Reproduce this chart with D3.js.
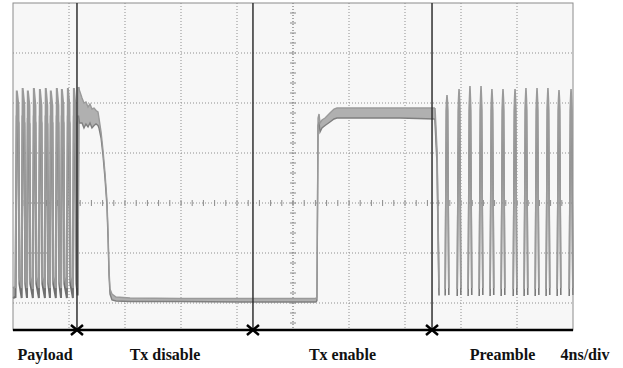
<!DOCTYPE html>
<html>
<head>
<meta charset="utf-8">
<script src="https://cdn.jsdelivr.net/npm/d3@7"></script>
<style>
	body { margin: 0; background: #fff; }
</style>
</head>
<body>
<div id="scope"></div>
<script>
// [time ns, low volts(div), high volts(div)], null = no samples
var payload = [
	[0.00, -1.90, -1.70], [0.18, -1.88, -1.68],
	[0.27, 1.75, 2.25], [0.39, 1.60, 1.95], [0.46, -1.62, -1.48], [0.62, -1.90, -1.70],
	[0.69, 1.75, 2.30], [0.81, 1.60, 1.95], [0.88, -1.62, -1.48], [1.00, -1.90, -1.70],
	[1.06, 1.70, 2.25], [1.17, 1.58, 1.95], [1.24, -1.62, -1.48], [1.42, -1.90, -1.72],
	[1.49, 1.75, 2.30], [1.60, 1.60, 1.95], [1.67, -1.62, -1.48], [1.85, -1.90, -1.70],
	[1.92, 1.75, 2.28], [2.03, 1.60, 1.95], [2.10, -1.62, -1.48], [2.28, -1.90, -1.70],
	[2.34, 1.75, 2.30], [2.45, 1.58, 1.95], [2.52, -1.62, -1.48], [2.64, -1.90, -1.70],
	[2.70, 1.75, 2.25], [2.81, 1.60, 1.95], [2.88, -1.62, -1.48], [3.06, -1.90, -1.70],
	[3.13, 1.75, 2.30], [3.24, 1.60, 1.95], [3.31, -1.62, -1.48], [3.43, -1.90, -1.70],
	[3.49, 1.75, 2.28], [3.60, 1.60, 1.95], [3.67, -1.62, -1.48], [3.85, -1.90, -1.70],
	[3.92, 1.75, 2.30], [4.03, 1.60, 1.95], [4.10, -1.62, -1.48], [4.28, -1.90, -1.70],
	[4.35, 1.75, 2.30], [4.46, 1.60, 1.95], [4.53, -1.62, -1.48], [4.62, -1.85, -1.70],
	[4.68, 1.75, 2.32]
];
var txDisable = [
	[4.68, 1.75, 2.32], [4.75, 1.60, 2.25], [4.93, 1.60, 2.10], [5.07, 1.50, 2.00],
	[5.21, 1.58, 2.02], [5.36, 1.52, 1.92], [5.50, 1.60, 1.98], [5.64, 1.50, 1.88],
	[5.79, 1.55, 1.90], [5.93, 1.58, 1.85], [6.07, 1.55, 1.82], [6.14, 1.50, 1.70],
	[6.29, 1.30, 1.42], [6.43, 0.95, 1.05], [6.57, 0.50, 0.60], [6.71, -0.05, 0.05],
	[6.79, -0.70, -0.60], [6.86, -1.45, -1.35], [6.93, -1.82, -1.72], [7.07, -1.94, -1.82],
	[7.36, -1.96, -1.88], [8.36, -1.97, -1.90], [11.93, -1.97, -1.91], [16.21, -1.98, -1.91],
	[21.64, -1.98, -1.91]
];
var txEnable = [
	[21.64, -1.98, -1.91], [21.71, -1.95, -1.88], [21.79, 1.55, 1.70], [21.86, 1.62, 1.78],
	[21.93, 1.42, 1.60], [22.07, 1.50, 1.66], [22.29, 1.55, 1.70], [22.64, 1.62, 1.80],
	[22.93, 1.68, 1.88], [23.14, 1.70, 1.90], [24.79, 1.70, 1.90], [27.64, 1.70, 1.90],
	[30.14, 1.68, 1.90]
];
var preamble = [
	[30.14, 1.68, 1.90], [30.29, 0.80, 1.00], [30.43, -1.85, -1.70], null,
	[30.87, -1.85, -1.72], [30.96, 1.85, 2.00], [31.00, 2.05, 2.16], [31.04, 1.85, 2.00], [31.13, -1.84, -1.70], null,
	[31.73, -1.86, -1.72], [31.82, 1.85, 2.05], [31.86, 2.12, 2.28], [31.90, 1.85, 2.05], [31.99, -1.84, -1.70], null,
	[32.51, -1.86, -1.72], [32.60, 1.85, 2.05], [32.64, 2.15, 2.34], [32.68, 1.85, 2.05], [32.77, -1.84, -1.70], null,
	[33.30, -1.86, -1.72], [33.39, 1.85, 2.05], [33.43, 2.15, 2.34], [33.47, 1.85, 2.05], [33.56, -1.84, -1.70], null,
	[34.08, -1.86, -1.72], [34.17, 1.85, 2.05], [34.21, 2.12, 2.28], [34.25, 1.85, 2.05], [34.34, -1.84, -1.70], null,
	[34.87, -1.86, -1.72], [34.96, 1.85, 2.05], [35.00, 2.12, 2.28], [35.04, 1.85, 2.05], [35.13, -1.84, -1.70], null,
	[35.73, -1.86, -1.72], [35.82, 1.85, 2.05], [35.86, 2.12, 2.28], [35.90, 1.85, 2.05], [35.99, -1.84, -1.70], null,
	[36.51, -1.86, -1.72], [36.60, 1.85, 2.05], [36.64, 2.14, 2.30], [36.68, 1.85, 2.05], [36.77, -1.84, -1.70], null,
	[37.30, -1.86, -1.72], [37.39, 1.85, 2.05], [37.43, 2.14, 2.30], [37.47, 1.85, 2.05], [37.56, -1.84, -1.70], null,
	[38.08, -1.86, -1.72], [38.17, 1.85, 2.05], [38.21, 2.14, 2.30], [38.25, 1.85, 2.05], [38.34, -1.84, -1.70], null,
	[38.87, -1.86, -1.72], [38.96, 1.85, 2.05], [39.00, 2.10, 2.26], [39.04, 1.85, 2.05], [39.13, -1.84, -1.70], null,
	[39.73, -1.86, -1.72], [39.82, 1.85, 2.05], [39.86, 2.12, 2.28], [39.90, 1.85, 2.05], [39.99, -1.84, -1.70]
];
var markers = [4.57, 17.14, 29.93];
var labels = ["Payload", "Tx disable", "Tx enable", "Preamble"];
var scaleLabel = "4ns/div";

var x = d3.scaleLinear().domain([0, 40]).range([13, 573]);
var y = d3.scaleLinear().domain([-2.54, 4]).range([330, 3]);

var svg = d3.select("#scope")
	.append("svg")
	.attr("width", 623)
	.attr("height", 368);

svg.append("rect")
	.attr("x", x(0))
	.attr("y", y(4))
	.attr("width", x(40) - x(0))
	.attr("height", y(-2.54) - y(4))
	.attr("fill", "#f7f7f7");

// graticule
svg.selectAll(".vgrid")
	.data(d3.range(4, 40, 4))
	.enter().append("line")
	.attr("x1", function(d) { return x(d); })
	.attr("x2", function(d) { return x(d); })
	.attr("y1", y(4))
	.attr("y2", y(-2.54))
	.attr("stroke", "#8f8f8f")
	.attr("stroke-dasharray", "1,2");

svg.selectAll(".hgrid")
	.data([-2, -1, 0, 1, 2, 3])
	.enter().append("line")
	.attr("x1", x(0))
	.attr("x2", x(40))
	.attr("y1", function(d) { return y(d); })
	.attr("y2", function(d) { return y(d); })
	.attr("stroke", "#8f8f8f")
	.attr("stroke-dasharray", "1,2");

svg.selectAll(".xtick")
	.data(d3.range(0.8, 40, 0.8))
	.enter().append("line")
	.attr("x1", function(d) { return x(d); })
	.attr("x2", function(d) { return x(d); })
	.attr("y1", y(0) - 3)
	.attr("y2", y(0) + 3)
	.attr("stroke", "#8a8a8a");

svg.selectAll(".ytick")
	.data(d3.range(-2.4, 4, 0.2))
	.enter().append("line")
	.attr("x1", x(20) - 3)
	.attr("x2", x(20) + 3)
	.attr("y1", function(d) { return y(d); })
	.attr("y2", function(d) { return y(d); })
	.attr("stroke", "#8a8a8a");

svg.append("line")
	.attr("x1", x(20)).attr("x2", x(20))
	.attr("y1", y(4)).attr("y2", y(-2.54))
	.attr("stroke", "#8f8f8f")
	.attr("stroke-dasharray", "1,2");

// traces
var band = d3.area()
	.defined(function(d) { return d; })
	.x(function(d) { return x(d[0]); })
	.y0(function(d) { return y(d[1]); })
	.y1(function(d) { return y(d[2]); });
var lowLine = d3.line()
	.defined(function(d) { return d; })
	.x(function(d) { return x(d[0]); })
	.y(function(d) { return y(d[1]); });
var highLine = d3.line()
	.defined(function(d) { return d; })
	.x(function(d) { return x(d[0]); })
	.y(function(d) { return y(d[2]); });

var traces = [
	{ data: payload, color: "#6f6f6f", w: 2 },
	{ data: txDisable, color: "#7f7f7f", w: 1.4 },
	{ data: txEnable, color: "#7f7f7f", w: 1.4 },
	{ data: preamble, color: "#7a7a7a", w: 1.6 }
];
traces.forEach(function(t) {
	svg.append("path").attr("d", band(t.data)).attr("fill", "#b0b0b0");
	svg.append("path").attr("d", lowLine(t.data)).attr("fill", "none")
		.attr("stroke", t.color).attr("stroke-width", t.w);
	svg.append("path").attr("d", highLine(t.data)).attr("fill", "none")
		.attr("stroke", "#9a9a9a").attr("stroke-width", t.w);
});

svg.append("rect")
	.attr("x", x(0))
	.attr("y", y(4))
	.attr("width", x(40) - x(0))
	.attr("height", y(-2.54) - y(4))
	.attr("fill", "none")
	.attr("stroke", "#8c8c8c");

// annotations
svg.selectAll(".marker")
	.data(markers)
	.enter().append("line")
	.attr("x1", function(d) { return x(d); })
	.attr("x2", function(d) { return x(d); })
	.attr("y1", y(4))
	.attr("y2", y(-2.54))
	.attr("stroke", "#303030")
	.attr("stroke-width", 1.5);

svg.append("line")
	.attr("x1", x(0)).attr("x2", x(40))
	.attr("y1", y(-2.54)).attr("y2", y(-2.54))
	.attr("stroke", "#000")
	.attr("stroke-width", 2.5);

svg.selectAll(".cross")
	.data(markers)
	.enter().append("path")
	.attr("d", function(d) {
		var cx = x(d), cy = y(-2.54);
		return "M" + (cx - 6) + "," + (cy - 5) + "L" + cx + "," + cy + "L" + (cx - 6) + "," + (cy + 5) +
			"M" + (cx + 6) + "," + (cy - 5) + "L" + cx + "," + cy + "L" + (cx + 6) + "," + (cy + 5);
	})
	.attr("fill", "none")
	.attr("stroke", "#000")
	.attr("stroke-width", 2.5);

var bounds = [0].concat(markers, [40]);
svg.selectAll(".label")
	.data(labels)
	.enter().append("text")
	.attr("x", function(d, i) { return x((bounds[i] + bounds[i + 1]) / 2); })
	.attr("y", 360)
	.attr("text-anchor", "middle")
	.attr("font-family", "Liberation Serif, Times New Roman, serif")
	.attr("font-weight", "bold")
	.attr("font-size", "16px")
	.attr("fill", "#111")
	.text(function(d) { return d; });

svg.append("text")
	.attr("x", 585)
	.attr("y", 360)
	.attr("text-anchor", "middle")
	.attr("font-family", "Liberation Serif, Times New Roman, serif")
	.attr("font-weight", "bold")
	.attr("font-size", "16px")
	.attr("fill", "#111")
	.text(scaleLabel);
</script>
</body>
</html>
